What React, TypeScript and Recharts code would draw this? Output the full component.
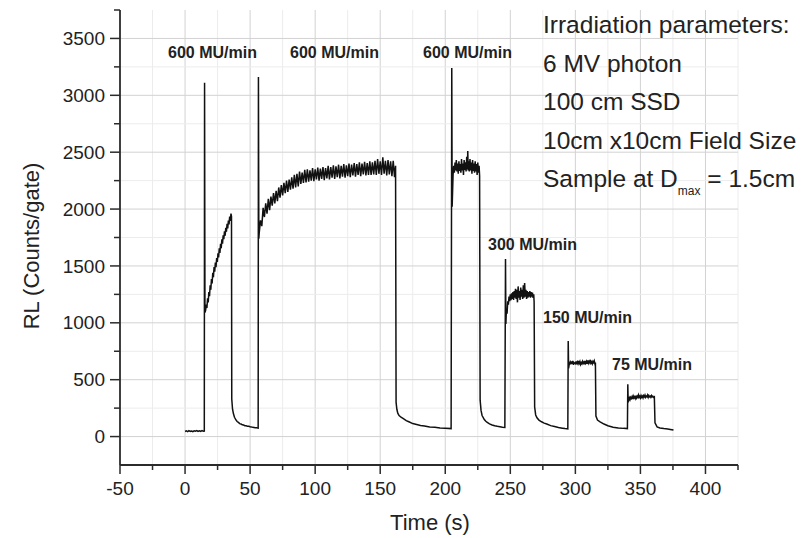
import { LineChart, Line, XAxis, YAxis, ReferenceLine } from 'recharts'

// RL trace, [time (s), counts/gate]
const baseline0 = [[0, 45], [1, 50], [2, 44], [3, 52], [4, 46], [5, 49], [6, 43], [7, 51], [8, 47], [9, 53], [10, 45], [11, 50], [12, 46], [13, 52], [14, 47], [14.8, 48]]
const pulse1 = [[15, 3110], [15.3, 1090], [15.8, 1110], [16.3, 1160], [16.8, 1130], [17.3, 1215], [17.8, 1180], [18.3, 1270], [18.8, 1235], [19.3, 1330], [19.8, 1290], [20.3, 1385], [20.8, 1345], [21.3, 1440], [21.8, 1400], [22.3, 1490], [22.8, 1450], [23.3, 1530], [23.8, 1490], [24.3, 1570], [24.8, 1535], [25.3, 1610], [25.8, 1575], [26.3, 1655], [26.8, 1615], [27.3, 1695], [27.8, 1655], [28.3, 1735], [28.8, 1695], [29.3, 1770], [29.8, 1735], [30.3, 1805], [30.8, 1765], [31.3, 1835], [31.8, 1800], [32.3, 1870], [32.8, 1830], [33.3, 1900], [33.8, 1865], [34.3, 1935], [34.8, 1895], [35.3, 1960], [35.7, 1935]]
const decay1 = [[35.9, 330], [36.5, 240], [37.2, 200], [38, 170], [39, 148], [40, 132], [41, 124], [42, 114], [43, 110], [44, 103], [45, 101], [46, 96], [47, 95], [48, 90], [49, 91], [50, 86], [51, 85], [52, 81], [53, 80], [54, 77], [55, 77], [56.2, 74]]
const pulse2 = [[56.4, 3160], [56.7, 1740], [57, 1790], [58, 1900], [59, 1850], [60, 2010], [61, 1930], [62, 2050], [63, 1960], [64, 2090], [65, 1990], [66, 2110], [67, 2030], [68, 2140], [69, 2050], [70, 2160], [71, 2070], [72, 2190], [73, 2100], [74, 2210], [75, 2120], [76, 2230], [77, 2140], [78, 2250], [79, 2150], [80, 2260], [81, 2170], [82, 2280], [83, 2180], [84, 2300], [85, 2190], [86, 2310], [87, 2200], [88, 2330], [89, 2220], [90, 2320], [91, 2230], [92, 2345], [93, 2235], [94, 2350], [95, 2240], [96, 2340], [97, 2250], [98, 2360], [99, 2245], [100, 2350], [101, 2260], [102, 2365], [103, 2250], [104, 2355], [105, 2265], [106, 2370], [107, 2255], [108, 2360], [109, 2270], [110, 2380], [111, 2260], [112, 2370], [113, 2275], [114, 2385], [115, 2265], [116, 2375], [117, 2280], [118, 2390], [119, 2270], [120, 2380], [121, 2285], [122, 2395], [123, 2275], [124, 2385], [125, 2290], [126, 2400], [127, 2280], [128, 2390], [129, 2295], [130, 2405], [131, 2285], [132, 2395], [133, 2300], [134, 2410], [135, 2290], [136, 2400], [137, 2305], [138, 2415], [139, 2295], [140, 2405], [141, 2300], [142, 2420], [143, 2300], [144, 2410], [145, 2305], [146, 2425], [147, 2300], [148, 2440], [149, 2310], [150, 2420], [151, 2300], [152, 2455], [153, 2310], [154, 2425], [155, 2295], [156, 2430], [157, 2305], [158, 2420], [159, 2290], [160, 2425], [161, 2280], [161.8, 2380]]
const decay2 = [[162.2, 300], [162.8, 240], [163.5, 205], [164.5, 185], [166, 170], [167.8, 158], [170, 140], [172, 130], [175, 114], [178, 106], [181, 98], [184, 93], [188, 84], [192, 81], [196, 76], [200, 74], [204.5, 70]]
const pulse3 = [[205, 3240], [205.3, 2020], [206, 2300], [206.5, 2380], [207, 2320], [207.5, 2410], [208, 2340], [208.5, 2430], [209, 2330], [209.5, 2400], [210, 2310], [210.5, 2420], [211, 2335], [211.5, 2395], [212, 2320], [212.5, 2440], [213, 2340], [213.5, 2400], [214, 2300], [214.5, 2430], [215, 2345], [215.5, 2410], [216, 2330], [216.5, 2460], [217, 2350], [217.3, 2510], [217.6, 2340], [218, 2420], [218.5, 2330], [219, 2440], [219.5, 2340], [220, 2410], [220.5, 2310], [221, 2430], [221.5, 2335], [222, 2400], [222.5, 2320], [223, 2420], [223.5, 2330], [224, 2395], [224.5, 2300], [225, 2410], [225.5, 2320], [226, 2380], [226.4, 2290]]
const decay3 = [[226.8, 320], [227.5, 230], [228.3, 185], [229, 170], [230, 150], [231, 136], [232, 126], [234, 112], [236, 102], [238, 95], [240, 90], [242, 86], [244, 82], [245.8, 80]]
const pulse4 = [[246.3, 1560], [246.6, 990], [247, 1120], [247.5, 1080], [248, 1190], [248.5, 1160], [249, 1230], [249.5, 1190], [250, 1250], [250.5, 1200], [251, 1260], [251.5, 1210], [252, 1270], [252.5, 1200], [253, 1280], [253.5, 1220], [254, 1300], [254.5, 1210], [255, 1290], [255.5, 1180], [256, 1320], [256.5, 1220], [257, 1280], [257.5, 1200], [258, 1310], [258.5, 1230], [259, 1290], [259.5, 1210], [260, 1330], [260.5, 1220], [261, 1350], [261.5, 1230], [262, 1290], [262.5, 1210], [263, 1280], [263.5, 1220], [264, 1270], [264.5, 1230], [265, 1280], [265.5, 1220], [266, 1270], [266.5, 1230], [267, 1265], [267.5, 1220], [268, 1250], [268.3, 1180]]
const decay4 = [[268.7, 260], [269.5, 190], [270.5, 165], [272, 145], [274, 130], [276, 118], [278, 110], [281, 96], [284, 88], [287, 80], [290, 74], [292, 70], [294.2, 68]]
const pulse5 = [[294.5, 840], [294.8, 600], [295.2, 630], [296, 655], [296.5, 635], [297, 660], [297.5, 640], [298, 665], [298.5, 630], [299, 650], [300, 640], [300.5, 660], [301, 635], [301.5, 655], [302, 640], [302.5, 665], [303, 645], [303.5, 660], [304, 635], [304.5, 650], [305, 640], [305.5, 660], [306, 645], [306.5, 655], [307, 635], [307.5, 665], [308, 645], [308.5, 660], [309, 640], [309.5, 670], [310, 645], [310.5, 660], [311, 650], [311.5, 675], [312, 645], [312.5, 655], [313, 640], [313.5, 660], [314, 650], [314.5, 665], [315, 640], [315.4, 650]]
const decay5 = [[315.8, 180], [317, 145], [319, 130], [322, 110], [325, 95], [329, 82], [333, 76], [337, 72], [340, 70]]
const pulse6 = [[340.3, 460], [340.6, 300], [341, 320], [341.5, 340], [342, 325], [342.5, 345], [343, 335], [343.5, 350], [344, 330], [344.5, 355], [345, 340], [345.5, 350], [346, 335], [346.5, 360], [347, 340], [347.5, 355], [348, 345], [348.5, 365], [349, 345], [349.5, 355], [350, 340], [350.5, 360], [351, 345], [351.5, 355], [352, 340], [352.5, 360], [353, 350], [353.5, 365], [354, 345], [354.5, 355], [355, 350], [355.5, 365], [356, 345], [356.5, 360], [357, 350], [357.5, 355], [358, 345], [358.5, 360], [359, 350], [359.5, 355], [360, 345], [360.7, 350]]
const decay6 = [[361.2, 120], [362.8, 85], [365, 76], [368, 70], [371, 66], [373, 63], [375.4, 58]]

const xTicks = [-50, -25, 0, 25, 50, 75, 100, 125, 150, 175, 200, 225, 250, 275, 300, 325, 350, 375, 400, 425]
const yTicks = [0, 250, 500, 750, 1000, 1250, 1500, 1750, 2000, 2250, 2500, 2750, 3000, 3250, 3500, 3750]

const rateLabels = ['600 MU/min', '600 MU/min', '600 MU/min', '300 MU/min', '150 MU/min', '75 MU/min']
const infoLines = ['Irradiation parameters:', '6 MV photon', '100 cm SSD', '10cm x10cm Field Size']

const data = [baseline0, pulse1, decay1, pulse2, decay2, pulse3, decay3, pulse4, decay4, pulse5, decay5, pulse6, decay6]
  .flat()
  .map(([t, v]) => ({ t, v }))

const FONT = '"Liberation Sans", Arial, sans-serif'
const AXIS = '#2b2b2b'

function XTick({ x, y, payload }: any) {
  const v = payload.value
  const major = v % 50 === 0 && v <= 400
  return (
    <g>
      <line x1={x} x2={x} y1={y} y2={y + (major ? 9 : 5)} stroke={AXIS} strokeWidth={1.5} />
      {major && (
        <text x={x} y={y + 30} textAnchor="middle" fontSize={19} fontFamily={FONT} fill="#222">
          {v}
        </text>
      )}
    </g>
  )
}

function YTick({ x, y, payload }: any) {
  const v = payload.value
  const major = v % 500 === 0
  return (
    <g>
      <line x1={x - (major ? 10 : 6)} x2={x} y1={y} y2={y} stroke={AXIS} strokeWidth={1.5} />
      {major && (
        <text x={x - 15} y={y} dy="0.35em" textAnchor="end" fontSize={19} fontFamily={FONT} fill="#222">
          {v}
        </text>
      )}
    </g>
  )
}

// label anchors are in pixels (annotation layer, not data)
const labelPos = [
  [168, 58], [290, 58], [423, 58], [488, 250], [543, 323], [612, 370],
]

export default function App() {
  return (
    <div style={{ position: 'absolute', left: 0, top: 0, width: 803, height: 538, background: '#fff' }}>
      <LineChart width={803} height={538} data={data} margin={{ top: 10, right: 65, bottom: 0, left: 0 }}>
        {xTicks.filter((t) => t > -50).map((t) => (
          <ReferenceLine key={'x' + t} x={t} stroke={t % 50 === 0 ? '#d2d2d2' : '#ececec'} strokeWidth={1} />
        ))}
        {yTicks.filter((v) => v < 3750).map((v) => (
          <ReferenceLine key={'y' + v} y={v} stroke={v % 500 === 0 ? '#d2d2d2' : '#ececec'} strokeWidth={1} />
        ))}
        <XAxis
          dataKey="t"
          type="number"
          domain={[-50, 425]}
          ticks={xTicks}
          interval={0}
          tickSize={0}
          tickMargin={0}
          height={73}
          axisLine={{ stroke: AXIS, strokeWidth: 1.8 }}
          tickLine={false}
          tick={(p: any) => <XTick {...p} />}
        />
        <YAxis
          type="number"
          domain={[-250, 3750]}
          ticks={yTicks}
          interval={0}
          tickSize={0}
          tickMargin={0}
          width={120}
          axisLine={{ stroke: AXIS, strokeWidth: 1.8 }}
          tickLine={false}
          tick={(p: any) => <YTick {...p} />}
        />
        <Line
          type="linear"
          dataKey="v"
          stroke="#111"
          strokeWidth={1.5}
          dot={false}
          isAnimationActive={false}
        />
      </LineChart>
      <svg width={803} height={538} style={{ position: 'absolute', left: 0, top: 0, pointerEvents: 'none' }}>
        {rateLabels.map((s, i) => (
          <text key={i} x={labelPos[i][0]} y={labelPos[i][1]} fontSize={16} fontWeight="bold" fontFamily={FONT} fill="#222">
            {s}
          </text>
        ))}
        {infoLines.map((s, i) => (
          <text key={s} x={543} y={33 + i * 38.5} fontSize={24.5} fontFamily={FONT} fill="#222">
            {s}
          </text>
        ))}
        <text x={543} y={187} fontSize={24.5} fontFamily={FONT} fill="#222">
          Sample at D
          <tspan fontSize={12} dy={8}>max</tspan>
          <tspan dy={-8}>{' = 1.5cm'}</tspan>
        </text>
        <text x={39} y={246} transform="rotate(-90 39 246)" textAnchor="middle" fontSize={22} fontFamily={FONT} fill="#222">
          RL (Counts/gate)
        </text>
        <text x={430} y={530} textAnchor="middle" fontSize={22} fontFamily={FONT} fill="#222">
          Time (s)
        </text>
      </svg>
    </div>
  )
}
